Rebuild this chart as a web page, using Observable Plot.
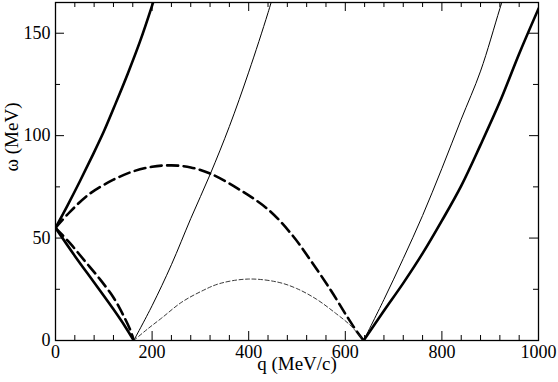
<!DOCTYPE html>
<html>
<head>
<meta charset="utf-8">
<script src="https://cdn.jsdelivr.net/npm/d3@7"></script>
<script src="https://cdn.jsdelivr.net/npm/@observablehq/plot@0.6"></script>
<style>
  html, body { margin: 0; padding: 0; background: #fff; }
</style>
</head>
<body>
<div id="chart"></div>
<script>
// Tick values
const xMajor = [0, 200, 400, 600, 800, 1000];
const xMinor = [40, 80, 120, 160, 240, 280, 320, 360, 440, 480, 520, 560, 640, 680, 720, 760, 840, 880, 920, 960];
const yMajor = [0, 50, 100, 150];
const yMinor = [25, 75, 125];

// Thick solid, upper-left branch
const qThickUpL = [0, 25, 50, 75, 100, 125, 150, 175, 200, 210];
const wThickUpL = [55, 66, 77.5, 89.5, 102, 116, 130.5, 146, 163.5, 171];
// Thick solid, lower-left branch
const qThickLoL = [0, 40, 80, 120, 145, 162];
const wThickLoL = [55, 41.3, 28.3, 15.2, 6.5, 0];
// Thick solid, right branch
const qThickR = [638, 680, 720, 760, 800, 840, 880, 920, 960, 1000];
const wThickR = [0, 14.5, 28, 42.5, 58.5, 75.5, 95.5, 116.5, 140, 162];
// Thick dashed, lower-left branch
const qDashLoL = [0, 30, 60, 90, 120, 140, 155, 162];
const wDashLoL = [55, 47.5, 39, 30.5, 21, 12.5, 5, 0];
// Thick dashed, arch
const qDashArch = [0, 30, 70, 120, 160, 200, 240, 280, 320, 380, 440, 490, 530, 570, 605, 625, 638];
const wDashArch = [55, 62.8, 71.5, 78.5, 82.5, 84.8, 85.5, 84.5, 81.5, 73.8, 64, 51.5, 38.5, 24.5, 11.2, 4, 0];
// Thin solid, left branch
const qThinL = [162, 200, 240, 280, 320, 360, 400, 440, 460];
const wThinL = [0, 17, 37, 59.5, 81, 104.5, 131, 160, 176];
// Thin solid, right branch
const qThinR = [638, 680, 720, 760, 800, 840, 880, 920, 940];
const wThinR = [0, 20, 40, 61, 84, 108, 131.5, 162, 177];
// Thin dashed arch
const qThinDash = [162, 190, 220, 260, 300, 340, 400, 460, 500, 540, 580, 610, 638];
const wThinDash = [0, 5.5, 11, 18.5, 23.8, 27.8, 30, 28.5, 25.3, 20.2, 13.3, 7.5, 0];

// Axis titles
const xTitle = "q (MeV/c)";
const yTitle = "ω (MeV)";

const toRows = (qs, ws) => qs.map((q, i) => ({q, w: ws[i]}));

const W = 558, H = 382, ML = 55, MR = 20, MT = 2, MB = 42;
const innerW = W - ML - MR, innerH = H - MT - MB;
const MAJ = 9, MIN = 5;
const FONT = "Liberation Serif";

const thick = {x: "q", y: "w", stroke: "black", strokeWidth: 2.6, curve: "catmull-rom", clip: true};
const thin = {x: "q", y: "w", stroke: "black", strokeWidth: 1, curve: "catmull-rom", clip: true};
const tk = {stroke: "black", strokeWidth: 1};
const tickTxt = {fill: "black", fontFamily: FONT, fontSize: 18};
const titleTxt = {fill: "black", fontFamily: FONT, fontSize: 19};

const chart = Plot.plot({
  width: W,
  height: H,
  marginLeft: ML,
  marginRight: MR,
  marginTop: MT,
  marginBottom: MB,
  style: {fontFamily: FONT, fontSize: "18px"},
  x: {domain: [0, 1000], axis: null},
  y: {domain: [0, 165], axis: null},
  marks: [
    // curves
    Plot.line(toRows(qThickUpL, wThickUpL), thick),
    Plot.line(toRows(qThickLoL, wThickLoL), thick),
    Plot.line(toRows(qThickR, wThickR), thick),
    Plot.line(toRows(qDashLoL, wDashLoL), {...thick, strokeDasharray: "11,5.5"}),
    Plot.line(toRows(qDashArch, wDashArch), {...thick, strokeDasharray: "11,5.5"}),
    Plot.line(toRows(qThinL, wThinL), thin),
    Plot.line(toRows(qThinR, wThinR), thin),
    Plot.line(toRows(qThinDash, wThinDash), {...thin, stroke: "#222", strokeWidth: 0.9, strokeDasharray: "4,2.5"}),
    // inward ticks on all four sides
    Plot.tickX(xMajor, {x: d => d, insetTop: innerH - MAJ, ...tk}),
    Plot.tickX(xMinor, {x: d => d, insetTop: innerH - MIN, ...tk}),
    Plot.tickX(xMajor, {x: d => d, insetBottom: innerH - MAJ, ...tk}),
    Plot.tickX(xMinor, {x: d => d, insetBottom: innerH - MIN, ...tk}),
    Plot.tickY(yMajor, {y: d => d, insetRight: innerW - MAJ, ...tk}),
    Plot.tickY(yMinor, {y: d => d, insetRight: innerW - MIN, ...tk}),
    Plot.tickY(yMajor, {y: d => d, insetLeft: innerW - MAJ, ...tk}),
    Plot.tickY(yMinor, {y: d => d, insetLeft: innerW - MIN, ...tk}),
    // tick labels
    Plot.text(xMajor, {x: d => d, text: d => String(d), frameAnchor: "bottom", lineAnchor: "top", dy: 5, ...tickTxt}),
    Plot.text(yMajor, {y: d => d, text: d => String(d), frameAnchor: "left", textAnchor: "end", dx: -5, ...tickTxt}),
    // axis titles
    Plot.text([xTitle], {frameAnchor: "bottom", dy: 29.5, ...titleTxt}),
    Plot.text([yTitle], {frameAnchor: "left", dx: -44, rotate: -90, ...titleTxt}),
    Plot.frame({stroke: "black", strokeWidth: 1.3})
  ]
});

document.getElementById("chart").appendChild(chart);
</script>
</body>
</html>
